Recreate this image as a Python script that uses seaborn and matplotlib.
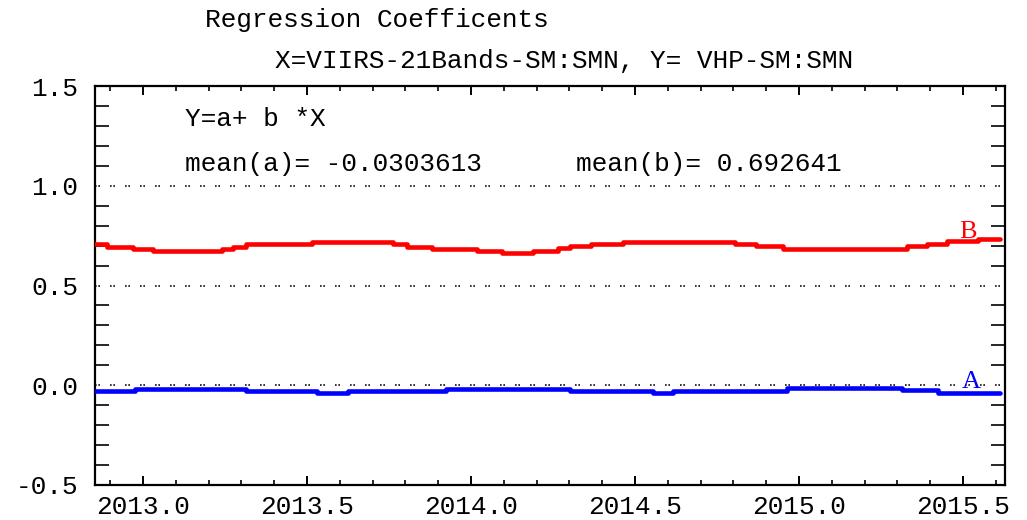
import numpy as np
import pandas as pd
import matplotlib
matplotlib.use("Agg")
import matplotlib.pyplot as plt
import seaborn as sns
from matplotlib.ticker import MultipleLocator, FormatStrFormatter

# Regression coefficient b (slope) over time: level changes (decimal year, value)
b_time = [2012.854, 2012.891, 2012.970, 2013.031, 2013.241, 2013.275, 2013.314,
          2013.516, 2013.763, 2013.805, 2013.881, 2014.019, 2014.095, 2014.189,
          2014.266, 2014.302, 2014.366, 2014.464, 2014.805, 2014.869, 2014.952,
          2015.330, 2015.391, 2015.452, 2015.546, 2015.613]
b_vals = [0.706, 0.6925, 0.681, 0.6725, 0.6825, 0.694, 0.706,
          0.719, 0.706, 0.6925, 0.681, 0.6725, 0.661, 0.674,
          0.686, 0.696, 0.7075, 0.720, 0.709, 0.696, 0.684,
          0.696, 0.709, 0.721, 0.731, 0.731]

# Regression coefficient a (intercept) over time
a_time = [2012.854, 2012.976, 2013.314, 2013.531, 2013.625, 2013.924, 2014.302,
          2014.555, 2014.616, 2014.964, 2015.314, 2015.424, 2015.613]
a_vals = [-0.031, -0.0175, -0.0275, -0.039, -0.0275, -0.0175, -0.0275,
          -0.039, -0.0275, -0.014, -0.026, -0.0375, -0.0375]

title = "Regression Coefficents"
subtitle = "X=VIIRS-21Bands-SM:SMN, Y= VHP-SM:SMN"
formula = "Y=a+ b *X"
mean_a_text = "mean(a)= -0.0303613"
mean_b_text = "mean(b)= 0.692641"

sns.set_theme(style="white")
plt.rcParams["font.family"] = ["Liberation Mono", "DejaVu Sans Mono"]

W, H = 1027, 520
FS = 18.8
fig = plt.figure(figsize=(W / 100, H / 100), dpi=100)
ax = fig.add_axes([95 / W, 1 - 485 / H, 910 / W, 399 / H])

df_b = pd.DataFrame({"year": b_time, "coef": b_vals})
df_a = pd.DataFrame({"year": a_time, "coef": a_vals})

sns.lineplot(data=df_b, x="year", y="coef", ax=ax, color="#ff0000", lw=3.3,
             drawstyle="steps-post", estimator=None, sort=False, zorder=3)
sns.lineplot(data=df_a, x="year", y="coef", ax=ax, color="#0000ff", lw=3.3,
             drawstyle="steps-post", estimator=None, sort=False, zorder=3)

ax.set_xlim(2012.854, 2015.628)
ax.set_ylim(-0.5, 1.5)
ax.set_xlabel("")
ax.set_ylabel("")

# dotted reference lines
for yv in (0.0, 0.5, 1.0):
    ax.axhline(yv, color="#111111", lw=1.2, linestyle=(0, (1, 1, 1, 6)), zorder=2)

for s in ax.spines.values():
    s.set_color("black")
    s.set_linewidth(1.6)

ax.xaxis.set_major_locator(MultipleLocator(0.5))
ax.xaxis.set_minor_locator(MultipleLocator(0.1))
ax.xaxis.set_major_formatter(FormatStrFormatter("%.1f"))
ax.yaxis.set_major_locator(MultipleLocator(0.5))
ax.yaxis.set_minor_locator(MultipleLocator(0.1))
ax.yaxis.set_major_formatter(FormatStrFormatter("%.1f"))

ax.tick_params(axis="x", which="major", direction="in", length=6.5, width=1.4,
               top=True, bottom=True, pad=7, labelsize=FS, colors="black")
ax.tick_params(axis="x", which="minor", direction="in", length=3.6, width=1.4,
               top=True, bottom=True)
ax.tick_params(axis="y", which="major", direction="in", length=0, width=1.4,
               left=True, right=True, pad=12, labelsize=FS, colors="black")
ax.tick_params(axis="y", which="minor", direction="in", length=10, width=1.4,
               left=True, right=True)

# curve labels
ax.text(2015.515, 0.770, "B", color="#ff0000", fontsize=19, ha="center",
        va="center", family=["Liberation Serif", "DejaVu Serif"])
ax.text(2015.524, 0.014, "A", color="#0000ff", fontsize=19, ha="center",
        va="center", family=["Liberation Serif", "DejaVu Serif"])

txt_kw = dict(fontsize=FS, color="black", va="center", ha="left")
fig.text(205 / W, 1 - 20 / H, title, **txt_kw)
fig.text(275 / W, 1 - 61 / H, subtitle, **txt_kw)
fig.text(185 / W, 1 - 119 / H, formula, **txt_kw)
fig.text(185 / W, 1 - 164 / H, mean_a_text, **txt_kw)
fig.text(576 / W, 1 - 164 / H, mean_b_text, **txt_kw)

fig.savefig("out.png", dpi=100, facecolor="white")
